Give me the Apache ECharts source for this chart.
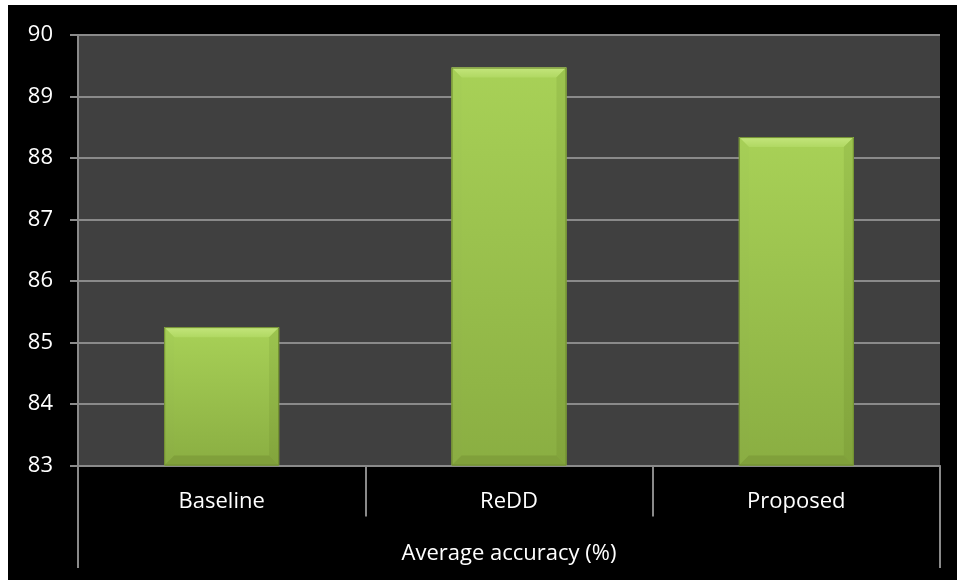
<!DOCTYPE html>
<html>
<head>
<meta charset="utf-8">
<script src="https://cdn.jsdelivr.net/npm/echarts@6/dist/echarts.min.js"></script>
<style>
  html, body { margin: 0; padding: 0; background: #ffffff; width: 957px; height: 580px; overflow: hidden; }
  #chart { position: absolute; left: 8px; top: 5px; width: 949px; height: 575px; }
</style>
</head>
<body>
<div id="chart"></div>
<script>
// Average accuracy per method
const categories = ['Baseline', 'ReDD', 'Proposed'];
const accuracy = [85.25, 89.47, 88.34];
const groupLabel = ['Average accuracy (%)'];
const yMin = 83, yMax = 90, yStep = 1;

const FONT = '"Open Sans", "Noto Sans", sans-serif';
const GRID_LINE = '#8a8a8a';

const chart = echarts.init(document.getElementById('chart'), null, { renderer: 'canvas' });

// Bevelled bar: main body plus four chamfered edge facets
function renderBevelBar(params, api) {
  const idx = api.value(0);
  const val = api.value(1);
  const top = api.coord([idx, val]);
  const base = api.coord([idx, yMin]);
  const w = api.size([1, 0])[0] * 0.4;
  const x0 = top[0] - w / 2, x1 = top[0] + w / 2;
  const y0 = top[1], y1 = base[1];
  const b = Math.min(10, (y1 - y0) / 3);
  const grad = (c0, c1) => new echarts.graphic.LinearGradient(0, 0, 0, 1, [
    { offset: 0, color: c0 }, { offset: 1, color: c1 }
  ]);
  return {
    type: 'group',
    children: [
      { type: 'rect', shape: { x: x0, y: y0, width: w, height: y1 - y0 },
        style: { fill: grad('#a8d157', '#8aae42') } },
      { type: 'polygon', shape: { points: [[x0, y0], [x1, y0], [x1 - b, y0 + b], [x0 + b, y0 + b]] },
        style: { fill: grad('#c4e67c', '#b0d862') } },
      { type: 'polygon', shape: { points: [[x0, y0], [x0 + b, y0 + b], [x0 + b, y1 - b], [x0, y1]] },
        style: { fill: grad('#a6cf57', '#8aad43') } },
      { type: 'polygon', shape: { points: [[x1, y0], [x1 - b, y0 + b], [x1 - b, y1 - b], [x1, y1]] },
        style: { fill: grad('#9cc44f', '#82a43c') } },
      { type: 'polygon', shape: { points: [[x0, y1], [x0 + b, y1 - b], [x1 - b, y1 - b], [x1, y1]] },
        style: { fill: '#80a03b' } },
      { type: 'rect', shape: { x: x0 + 0.5, y: y0 + 0.5, width: w - 1, height: y1 - y0 - 1 },
        style: { fill: 'none', stroke: '#6f8c30', lineWidth: 1 } }
    ]
  };
}

chart.setOption({
  backgroundColor: '#000000',
  animation: false,
  grid: {
    left: 70, right: 17, top: 30, bottom: 114.5,
    show: true, backgroundColor: '#404040', borderWidth: 0
  },
  xAxis: [
    {
      type: 'category',
      data: categories,
      position: 'bottom',
      axisLine: { show: true, lineStyle: { color: GRID_LINE, width: 2 } },
      axisTick: { show: true, length: 51, lineStyle: { color: GRID_LINE, width: 2 } },
      axisLabel: { color: '#ffffff', fontFamily: FONT, fontSize: 22, margin: 25 }
    },
    {
      type: 'category',
      data: groupLabel,
      position: 'bottom',
      axisLine: { show: false },
      axisTick: { show: true, length: 102.5, lineStyle: { color: GRID_LINE, width: 2 } },
      axisLabel: { color: '#ffffff', fontFamily: FONT, fontSize: 22, margin: 77 }
    }
  ],
  yAxis: {
    type: 'value',
    min: yMin, max: yMax, interval: yStep,
    axisLine: { show: true, lineStyle: { color: GRID_LINE, width: 2 } },
    axisTick: { show: true, length: 8, lineStyle: { color: GRID_LINE, width: 2 } },
    splitLine: { show: true, lineStyle: { color: GRID_LINE, width: 2 } },
    axisLabel: { color: '#ffffff', fontFamily: FONT, fontSize: 22, margin: 25 }
  },
  series: [{
    type: 'custom',
    xAxisIndex: 0,
    renderItem: renderBevelBar,
    encode: { x: 0, y: 1 },
    data: accuracy.map((v, i) => [i, v]),
    z: 5
  }]
});
</script>
</body>
</html>
